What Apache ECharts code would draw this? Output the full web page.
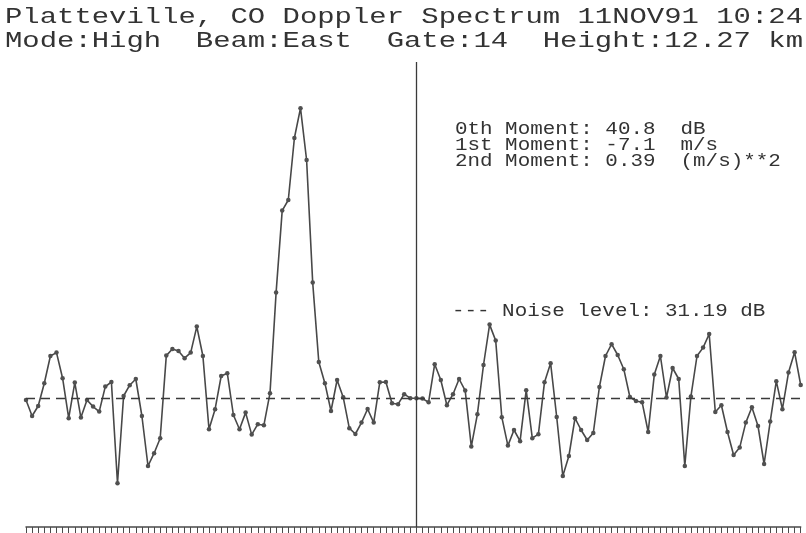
<!DOCTYPE html>
<html>
<head>
<meta charset="utf-8">
<script src="https://cdn.jsdelivr.net/npm/echarts@6/dist/echarts.min.js"></script>
<style>html,body{margin:0;padding:0;background:#fff;}#c{width:806px;height:533px;}</style>
</head>
<body>
<div id="c"></div>
<script>
// Spectral bin indices (128 Doppler bins, zero velocity at bin 64)
var categories = Array.from({length: 128}, function (_, i) { return String(i); });
// Spectral power (dB)
var powerDb = [
 31.10,30.30,30.80,31.94,33.30,33.47,32.19,30.19,31.97,30.22,
 31.10,30.77,30.52,31.77,32.00,26.94,31.30,31.84,32.15,30.30,
 27.80,28.44,29.19,33.32,33.65,33.55,33.19,33.47,34.77,33.30,
 29.64,30.64,32.30,32.44,30.35,29.64,30.47,29.37,29.89,29.84,
 31.44,36.47,40.57,41.10,44.20,45.69,43.10,36.97,33.00,31.94,
 30.55,32.10,31.24,29.69,29.40,29.97,30.65,29.97,31.99,32.00,
 30.94,30.89,31.39,31.19,31.19,31.17,30.99,32.89,32.10,30.84,
 31.39,32.15,31.57,28.77,30.39,32.85,34.87,34.07,30.24,28.82,
 29.60,29.04,31.59,29.19,29.39,31.99,32.94,30.25,27.30,28.30,
 30.19,29.60,29.10,29.45,31.75,33.30,33.89,33.35,32.64,31.25,
 31.05,30.99,29.50,32.37,33.30,31.22,32.70,32.15,27.80,31.27,
 33.30,33.72,34.40,30.50,30.84,29.50,28.35,28.72,29.97,30.74,
 29.80,27.90,30.02,32.04,30.64,32.47,33.49,31.85
];
var noiseLevel = 31.19;
var centerBin = 64;
var titleLines = [
 'Platteville, CO Doppler Spectrum 11NOV91 10:24',
 'Mode:High  Beam:East  Gate:14  Height:12.27 km'
];
var momentLines = [
 '0th Moment: 40.8  dB',
 '1st Moment: -7.1  m/s',
 '2nd Moment: 0.39  (m/s)**2'
];
var noiseText = '--- Noise level: 31.19 dB';

var FONT = '"Liberation Mono", "DejaVu Sans Mono", monospace';
var ink = '#333333';

function txt(t, x, y, size, sx, thin) {
  return {
    type: 'text', x: x, y: y, scaleX: sx, scaleY: 1, silent: true,
    style: { text: t, font: size + 'px ' + FONT, fill: ink, align: 'left', verticalAlign: 'middle',
             stroke: '#ffffff', lineWidth: thin }
  };
}

var chart = echarts.init(document.getElementById('c'), null, {renderer: 'canvas'});
chart.setOption({
  animation: false,
  backgroundColor: '#ffffff',
  grid: { left: 26, right: 5.3, top: 62, bottom: 6, containLabel: false },
  xAxis: {
    type: 'category', data: categories, boundaryGap: false,
    axisLine: { show: true, lineStyle: { color: '#4a4a4a', width: 1.5 } },
    axisTick: { show: true, interval: 0, length: 6, lineStyle: { color: '#4a4a4a', width: 1 } },
    axisLabel: { show: false },
    splitLine: { show: false }
  },
  yAxis: {
    type: 'value', min: 24.75, max: 48,
    show: false, splitLine: { show: false }
  },
  series: [{
    type: 'line', data: powerDb,
    symbol: 'circle', symbolSize: 4.5, showSymbol: true, showAllSymbol: true,
    itemStyle: { color: '#505050' },
    lineStyle: { color: '#484848', width: 1.6 },
    z: 3,
    markLine: {
      silent: true, symbol: 'none', label: { show: false },
      data: [
        { yAxis: noiseLevel, lineStyle: { type: [9, 6], color: '#3a3a3a', width: 1.3 } },
        { xAxis: centerBin, lineStyle: { type: 'solid', color: '#3a3a3a', width: 1.3 } }
      ]
    }
  }],
  graphic: [
    txt(titleLines[0], 5, 17, 22, 1.314, 0.9),
    txt(titleLines[1], 5, 41, 22, 1.314, 0.9),
    txt(momentLines[0], 455, 129, 18, 1.16, 0.6),
    txt(momentLines[1], 455, 145, 18, 1.16, 0.6),
    txt(momentLines[2], 455, 161, 18, 1.16, 0.6),
    txt(noiseText, 452, 311, 18, 1.16, 0.6)
  ]
});
</script>
</body>
</html>
